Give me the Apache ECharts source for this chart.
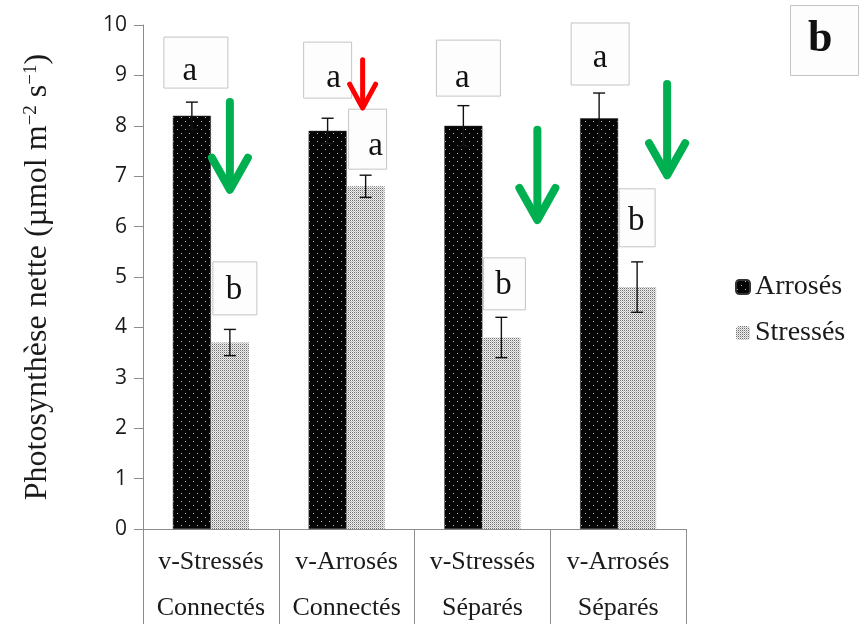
<!DOCTYPE html>
<html>
<head>
<meta charset="utf-8">
<title>Photosynthèse nette</title>
<script src="https://cdn.jsdelivr.net/npm/echarts@6/dist/echarts.min.js"></script>
<style>
  html, body { margin: 0; padding: 0; background: #fff; }
  #chart { width: 865px; height: 624px; }
</style>
</head>
<body>
<div id="chart"></div>
<script>
// ---- data ----
const categoriesLine1 = ['v-Stressés', 'v-Arrosés', 'v-Stressés', 'v-Arrosés'];
const categoriesLine2 = ['Connectés', 'Connectés', 'Séparés', 'Séparés'];
const arrosesValues = [8.2, 7.9, 8.0, 8.15];
const arrosesErrors = [0.27, 0.25, 0.4, 0.5];
const stressesValues = [3.7, 6.8, 3.8, 4.8];
const stressesErrors = [0.26, 0.22, 0.4, 0.5];
const arrosesLetters = ['a', 'a', 'a', 'a'];
const stressesLetters = ['b', 'a', 'b', 'b'];
const seriesNames = ['Arrosés', 'Stressés'];
const yMin = 0, yMax = 10, yStep = 1;

// ---- annotation layout (letter boxes and arrows) ----
// box: category, series, top (axis units), dx from band centre (px), size, letter offset
const boxLayout = [
  { cat: 0, s: 0, top: 9.76, dx: -15, w: 64, h: 51, lx: -6, ly: 9 },
  { cat: 0, s: 1, top: 5.30, dx: 24,  w: 44, h: 53, lx: -1, ly: 2 },
  { cat: 1, s: 0, top: 9.66, dx: -19, w: 48, h: 56, lx: 6,  ly: 8 },
  { cat: 1, s: 1, top: 8.33, dx: 21,  w: 38, h: 60, lx: 8,  ly: 7 },
  { cat: 2, s: 0, top: 9.70, dx: -14, w: 64, h: 56, lx: -6, ly: 10 },
  { cat: 2, s: 1, top: 5.38, dx: 22,  w: 42, h: 52, lx: -1, ly: 1 },
  { cat: 3, s: 0, top: 10.04, dx: -18, w: 58, h: 62, lx: 0, ly: 4 },
  { cat: 3, s: 1, top: 6.75, dx: 19,  w: 36, h: 58, lx: -1, ly: 4 }
];
const arrowLayout = [
  { cat: 0, dx: 19, from: 8.47, to: 6.73, color: '#00b050', width: 8, head: 18, headLen: 32 },
  { cat: 1, dx: 16, from: 9.31, to: 8.35, color: '#ff0000', width: 5, head: 13, headLen: 24 },
  { cat: 2, dx: 55, from: 7.92, to: 6.13, color: '#00b050', width: 8, head: 18, headLen: 32 },
  { cat: 3, dx: 49, from: 8.83, to: 7.02, color: '#00b050', width: 8, head: 18, headLen: 32 }
];

// ---- fill patterns ----
function makeTile(size, bg, dots) {
  const c = document.createElement('canvas');
  c.width = size; c.height = size;
  const g = c.getContext('2d');
  g.fillStyle = bg; g.fillRect(0, 0, size, size);
  dots.forEach(d => { g.fillStyle = d[2]; g.fillRect(d[0], d[1], 1, 1); });
  return c;
}
const darkTile = makeTile(8, '#050505', [[1, 1, '#b8b8b8'], [5, 5, '#b8b8b8']]);
const lightTile = makeTile(2, '#f0f0f0', [[0, 0, '#6e6e6e'], [1, 1, '#bdbdbd']]);
const darkFill = { image: darkTile, repeat: 'repeat' };
const lightFill = { image: lightTile, repeat: 'repeat' };

const serif = 'Liberation Serif, Times New Roman, serif';
const axisGray = '#8c8c8c';
const BAR_RATIO = 0.28;

const chart = echarts.init(document.getElementById('chart'), null, { renderer: 'canvas' });

function errorBarSeries(values, errors, sIdx) {
  return {
    type: 'custom',
    name: seriesNames[sIdx] + ' erreur',
    z: 5,
    clip: false,
    data: values.map((v, i) => [i, v, errors[i]]),
    renderItem: function (params, api) {
      const i = api.value(0);
      const band = api.size([1, 0])[0];
      const off = (sIdx === 0 ? -1 : 1) * band * BAR_RATIO / 2;
      const hi = api.coord([i, api.value(1) + api.value(2)]);
      const lo = api.coord([i, api.value(1) - api.value(2)]);
      const x = hi[0] + off;
      const cap = 6;
      const st = { stroke: '#111', lineWidth: 1.4 };
      return {
        type: 'group',
        children: [
          { type: 'line', shape: { x1: x, y1: hi[1], x2: x, y2: lo[1] }, style: st },
          { type: 'line', shape: { x1: x - cap, y1: hi[1], x2: x + cap, y2: hi[1] }, style: st },
          { type: 'line', shape: { x1: x - cap, y1: lo[1], x2: x + cap, y2: lo[1] }, style: st }
        ]
      };
    }
  };
}

const letterSets = [arrosesLetters, stressesLetters];

const annotationSeries = {
  type: 'custom',
  name: 'lettres',
  z: 6,
  clip: false,
  data: boxLayout.map(b => [b.cat, b.top]),
  renderItem: function (params, api) {
    const b = boxLayout[params.dataIndex];
    const p = api.coord([b.cat, b.top]);
    const cx = p[0] + b.dx;
    const y0 = p[1];
    return {
      type: 'group',
      children: [
        { type: 'rect', shape: { x: cx - b.w / 2, y: y0, width: b.w, height: b.h },
          style: { fill: '#fdfdfd', stroke: '#c4c4c4', lineWidth: 1 } },
        { type: 'text', x: cx + b.lx, y: y0 + b.h / 2 + b.ly,
          style: { text: letterSets[b.s][b.cat], fill: '#111', font: '33px ' + serif,
                   align: 'center', verticalAlign: 'middle' } }
      ]
    };
  }
};

const arrowSeries = {
  type: 'custom',
  name: 'fleches',
  z: 7,
  clip: false,
  data: arrowLayout.map(a => [a.cat, a.from, a.to]),
  renderItem: function (params, api) {
    const a = arrowLayout[params.dataIndex];
    const p1 = api.coord([a.cat, a.from]);
    const p2 = api.coord([a.cat, a.to]);
    const x = p1[0] + a.dx;
    const st = { stroke: a.color, lineWidth: a.width, lineCap: 'round', lineJoin: 'round', fill: null };
    return {
      type: 'group',
      children: [
        { type: 'line', shape: { x1: x, y1: p1[1], x2: x, y2: p2[1] - 2 }, style: st },
        { type: 'polyline', shape: { points: [[x - a.head, p2[1] - a.headLen], [x, p2[1]], [x + a.head, p2[1] - a.headLen]] }, style: st }
      ]
    };
  }
};

const option = {
  animation: false,
  backgroundColor: '#ffffff',
  grid: { left: 143, right: 179, top: 25, bottom: 95, containLabel: false, outerBoundsMode: 'none' },
  legend: {
    orient: 'vertical',
    left: 730,
    top: 267,
    itemWidth: 14,
    itemHeight: 14,
    itemGap: 16,
    data: seriesNames,
    textStyle: { fontFamily: serif, fontSize: 28, color: '#1a1a1a', lineHeight: 30 }
  },
  xAxis: {
    type: 'category',
    data: categoriesLine1.map((c, i) => c + '\n' + categoriesLine2[i]),
    axisLine: { show: true, lineStyle: { color: axisGray, width: 1 } },
    axisTick: { show: true, length: 95, alignWithLabel: false, lineStyle: { color: axisGray, width: 1 } },
    axisLabel: { fontFamily: serif, fontSize: 26, color: '#1a1a1a', lineHeight: 46, margin: 10, interval: 0 },
    splitLine: { show: false }
  },
  yAxis: {
    type: 'value',
    min: yMin, max: yMax, interval: yStep,
    name: 'Photosynthèse nette (µmol m{sup|−2} s{sup|−1})',
    nameLocation: 'middle',
    nameRotate: 90,
    nameGap: 89,
    nameTextStyle: {
      fontFamily: serif, fontSize: 32, color: '#1a1a1a',
      rich: { sup: { fontFamily: serif, fontSize: 19, color: '#1a1a1a', verticalAlign: 'top' } }
    },
    axisLine: { show: true, lineStyle: { color: axisGray, width: 1 } },
    axisTick: { show: true, inside: false, length: 9, lineStyle: { color: axisGray, width: 1 } },
    axisLabel: { fontFamily: 'Open Sans, sans-serif', fontSize: 21, color: '#1a1a1a', margin: 16 },
    splitLine: { show: false }
  },
  series: [
    {
      type: 'bar', name: seriesNames[0], data: arrosesValues,
      barWidth: (BAR_RATIO * 100) + '%', barGap: '0%',
      itemStyle: { color: darkFill, borderColor: '#333', borderWidth: 0.5 }
    },
    {
      type: 'bar', name: seriesNames[1], data: stressesValues,
      barWidth: (BAR_RATIO * 100) + '%', barGap: '0%',
      itemStyle: { color: lightFill }
    },
    errorBarSeries(arrosesValues, arrosesErrors, 0),
    errorBarSeries(stressesValues, stressesErrors, 1),
    annotationSeries,
    arrowSeries
  ],
  graphic: [
    { type: 'rect', left: 790, top: 5, shape: { width: 68, height: 70 },
      style: { fill: '#fdfdfd', stroke: '#c4c4c4', lineWidth: 1 } },
    { type: 'text', left: 808, top: 18,
      style: { text: 'b', font: 'bold 44px ' + serif, fill: '#111' } }
  ]
};

chart.setOption(option);
</script>
</body>
</html>
